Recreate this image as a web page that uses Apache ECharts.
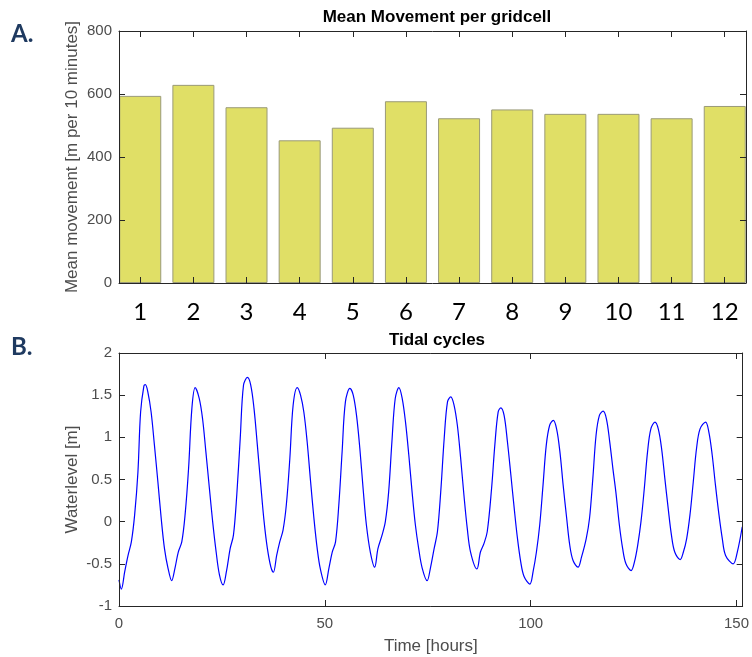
<!DOCTYPE html>
<html>
<head>
<meta charset="utf-8">
<script src="https://cdn.jsdelivr.net/npm/echarts@6/dist/echarts.min.js"></script>
<style>
html,body{margin:0;padding:0;background:#fff;}
#c{width:752px;height:657px;}
</style>
</head>
<body>
<div id="c"></div>
<script>
// ---- Data ----
const gridcells = [1, 2, 3, 4, 5, 6, 7, 8, 9, 10, 11, 12];
const meanMovement = [594, 629, 558, 453, 493, 577, 523, 551, 537, 537, 523, 562];
const movementTicks = [0, 200, 400, 600, 800];

const tideTime = [0, 0.57, 1.4, 2.2, 3.0, 3.8, 4.6, 5.25, 6.05, 6.4, 7.0, 7.8, 8.6, 9.45, 10.25, 11.05, 11.9, 12.8, 13.6, 14.4, 15.25, 16.05, 16.9, 17.7, 18.5, 19.5, 20.3, 21.1, 21.95, 22.75, 23.6, 24.4, 25.3, 26.1, 27.0, 27.8, 28.6, 29.45, 30.25, 31.2, 32.0, 32.8, 33.6, 34.45, 35.25, 36.05, 36.9, 37.5, 38.3, 39.05, 39.85, 40.65, 41.5, 42.3, 43.3, 44.1, 44.9, 45.7, 46.55, 47.35, 48.15, 48.95, 50.1, 51.0, 51.8, 52.6, 53.4, 54.2, 55.0, 56.1, 56.9, 57.7, 58.5, 59.3, 60.1, 61.05, 62.1, 62.9, 63.9, 64.7, 65.5, 66.3, 67.1, 68.0, 68.8, 69.6, 70.4, 71.2, 72.0, 72.8, 73.65, 74.85, 75.65, 76.55, 77.35, 78.15, 79.0, 79.8, 80.6, 81.4, 82.2, 83.0, 83.8, 84.6, 85.4, 86.95, 87.8, 88.65, 89.45, 90.5, 91.3, 92.1, 92.75, 93.55, 94.35, 95.2, 96.0, 96.8, 97.6, 98.4, 99.8, 100.6, 101.4, 102.2, 103.0, 103.8, 104.6, 105.5, 106.3, 107.1, 107.9, 108.75, 109.5, 110.3, 111.5, 112.35, 113.5, 114.3, 115.1, 115.9, 116.7, 117.6, 118.4, 119.2, 120.0, 120.7, 121.55, 122.35, 123.15, 124.4, 125.2, 126.0, 126.8, 127.6, 128.4, 129.2, 130.2, 131.0, 131.8, 132.6, 133.4, 134.2, 135.0, 136.3, 137.1, 137.9, 138.7, 139.5, 140.3, 141.15, 142.5, 143.3, 144.1, 144.9, 145.75, 146.55, 147.35, 149.2, 150.2, 151.4];
const tideLevel = [-0.69, -0.80, -0.59, -0.40, -0.24, 0.08, 0.59, 1.30, 1.61, 1.625, 1.54, 1.30, 0.91, 0.47, 0.04, -0.32, -0.55, -0.70, -0.55, -0.36, -0.24, 0.08, 0.63, 1.34, 1.59, 1.46, 1.22, 0.83, 0.40, 0.00, -0.36, -0.63, -0.75, -0.59, -0.32, -0.16, 0.31, 0.99, 1.62, 1.71, 1.62, 1.34, 0.91, 0.43, 0.00, -0.32, -0.54, -0.60, -0.40, -0.24, -0.10, 0.20, 0.75, 1.38, 1.59, 1.50, 1.30, 0.95, 0.47, 0.04, -0.32, -0.57, -0.75, -0.55, -0.36, -0.24, 0.20, 0.83, 1.42, 1.58, 1.50, 1.26, 0.87, 0.39, -0.04, -0.36, -0.54, -0.32, -0.16, 0.00, 0.35, 0.95, 1.46, 1.59, 1.46, 1.18, 0.79, 0.35, -0.04, -0.32, -0.55, -0.70, -0.55, -0.32, -0.12, 0.35, 0.99, 1.42, 1.48, 1.38, 1.14, 0.75, 0.31, -0.08, -0.36, -0.56, -0.36, -0.26, -0.12, 0.39, 0.91, 1.30, 1.35, 1.26, 0.95, 0.55, 0.16, -0.20, -0.48, -0.65, -0.74, -0.59, -0.36, -0.04, 0.43, 0.91, 1.14, 1.20, 1.10, 0.83, 0.43, 0.04, -0.28, -0.46, -0.54, -0.42, -0.20, 0.04, 0.51, 1.03, 1.26, 1.31, 1.22, 0.95, 0.62, 0.35, -0.04, -0.32, -0.50, -0.58, -0.48, -0.28, 0.00, 0.39, 0.83, 1.10, 1.18, 1.10, 0.87, 0.51, 0.16, -0.16, -0.36, -0.45, -0.36, -0.20, 0.08, 0.47, 0.87, 1.10, 1.18, 1.06, 0.79, 0.43, 0.08, -0.20, -0.40, -0.50, -0.36, -0.06];
const timeTicks = [0, 50, 100, 150];

// ---- Chart ----
const AX = '#262626';
const LBL = '#4d4d4d';
const FONT = 'Liberation Sans, Arial, sans-serif';

const chart = echarts.init(document.getElementById('c'), null, {renderer: 'canvas'});

const barData = gridcells.map((g, i) => [g, meanMovement[i]]);
const tideData = tideTime.map((t, i) => [t, tideLevel[i]]);

function boxAxis(extra) {
  return Object.assign({
    axisLine: {show: true, onZero: false, lineStyle: {color: AX, width: 1}},
    axisTick: {show: true, inside: true, length: 6, lineStyle: {color: AX}},
    axisLabel: {show: false},
    splitLine: {show: false},
    nameMoveOverlap: false,
    z: 10
  }, extra);
}

chart.setOption({
  animation: false,
  backgroundColor: '#ffffff',
  title: [
    {text: 'Mean Movement per gridcell', left: 432, top: 4, textAlign: 'center',
     textStyle: {fontFamily: FONT, fontSize: 17, fontWeight: 'bold', color: '#000'}},
    {text: 'Tidal cycles', left: 432, top: 327, textAlign: 'center',
     textStyle: {fontFamily: FONT, fontSize: 17, fontWeight: 'bold', color: '#000'}}
  ],
  grid: [
    {left: 119, top: 31, width: 627, height: 252},
    {left: 119, top: 353, width: 627, height: 253}
  ],
  xAxis: [
    boxAxis({type: 'value', gridIndex: 0, position: 'bottom', min: 0.6, max: 12.4,
      axisTick: {show: true, inside: true, length: 6, lineStyle: {color: AX}, customValues: gridcells},
      axisLabel: {show: true, customValues: gridcells, margin: 17,
        fontFamily: 'Lato, Carlito, sans-serif', fontSize: 24, color: '#000'}}),
    boxAxis({type: 'value', gridIndex: 0, position: 'top', min: 0.6, max: 12.4,
      axisTick: {show: true, inside: true, length: 6, lineStyle: {color: AX}, customValues: gridcells}}),
    boxAxis({type: 'value', gridIndex: 1, position: 'bottom', min: 0, max: 151.5,
      axisTick: {show: true, inside: true, length: 6, lineStyle: {color: AX}, customValues: timeTicks},
      axisLabel: {show: true, customValues: timeTicks, margin: 10, fontFamily: FONT, fontSize: 15, color: LBL},
      name: 'Time [hours]', nameLocation: 'middle', nameGap: 32,
      nameTextStyle: {fontFamily: FONT, fontSize: 17, color: LBL}}),
    boxAxis({type: 'value', gridIndex: 1, position: 'top', min: 0, max: 151.5,
      axisTick: {show: true, inside: true, length: 6, lineStyle: {color: AX}, customValues: timeTicks}})
  ],
  yAxis: [
    boxAxis({type: 'value', gridIndex: 0, position: 'left', min: 0, max: 800, interval: 200,
      axisLabel: {show: true, margin: 7, fontFamily: FONT, fontSize: 15, color: LBL},
      name: 'Mean movement [m per 10 minutes]', nameLocation: 'middle', nameGap: 38,
      nameTextStyle: {fontFamily: FONT, fontSize: 17, color: LBL}}),
    boxAxis({type: 'value', gridIndex: 0, position: 'right', min: 0, max: 800, interval: 200}),
    boxAxis({type: 'value', gridIndex: 1, position: 'left', min: -1, max: 2, interval: 0.5,
      axisLabel: {show: true, margin: 7, fontFamily: FONT, fontSize: 15, color: LBL},
      name: 'Waterlevel [m]', nameLocation: 'middle', nameGap: 38,
      nameTextStyle: {fontFamily: FONT, fontSize: 17, color: LBL}}),
    boxAxis({type: 'value', gridIndex: 1, position: 'right', min: -1, max: 2, interval: 0.5})
  ],
  series: [
    {type: 'bar', xAxisIndex: 0, yAxisIndex: 0, data: barData, barWidth: 42,
     itemStyle: {color: '#e0df66', borderColor: '#9a9a78', borderWidth: 1}},
    {type: 'line', xAxisIndex: 2, yAxisIndex: 2, data: tideData, smooth: 0.35,
     showSymbol: false, symbol: 'none', clip: true,
     lineStyle: {color: '#0000ff', width: 1.2}}
  ],
  graphic: [
    {type: 'text', left: 11, top: 22, style: {text: 'A.', fontFamily: 'Lato, sans-serif', fontSize: 24, fontWeight: 'bold', fill: '#1f3a60'}},
    {type: 'text', left: 11, top: 335, style: {text: 'B.', fontFamily: 'Lato, sans-serif', fontSize: 24, fontWeight: 'bold', fill: '#1f3a60'}}
  ]
});
</script>
</body>
</html>
